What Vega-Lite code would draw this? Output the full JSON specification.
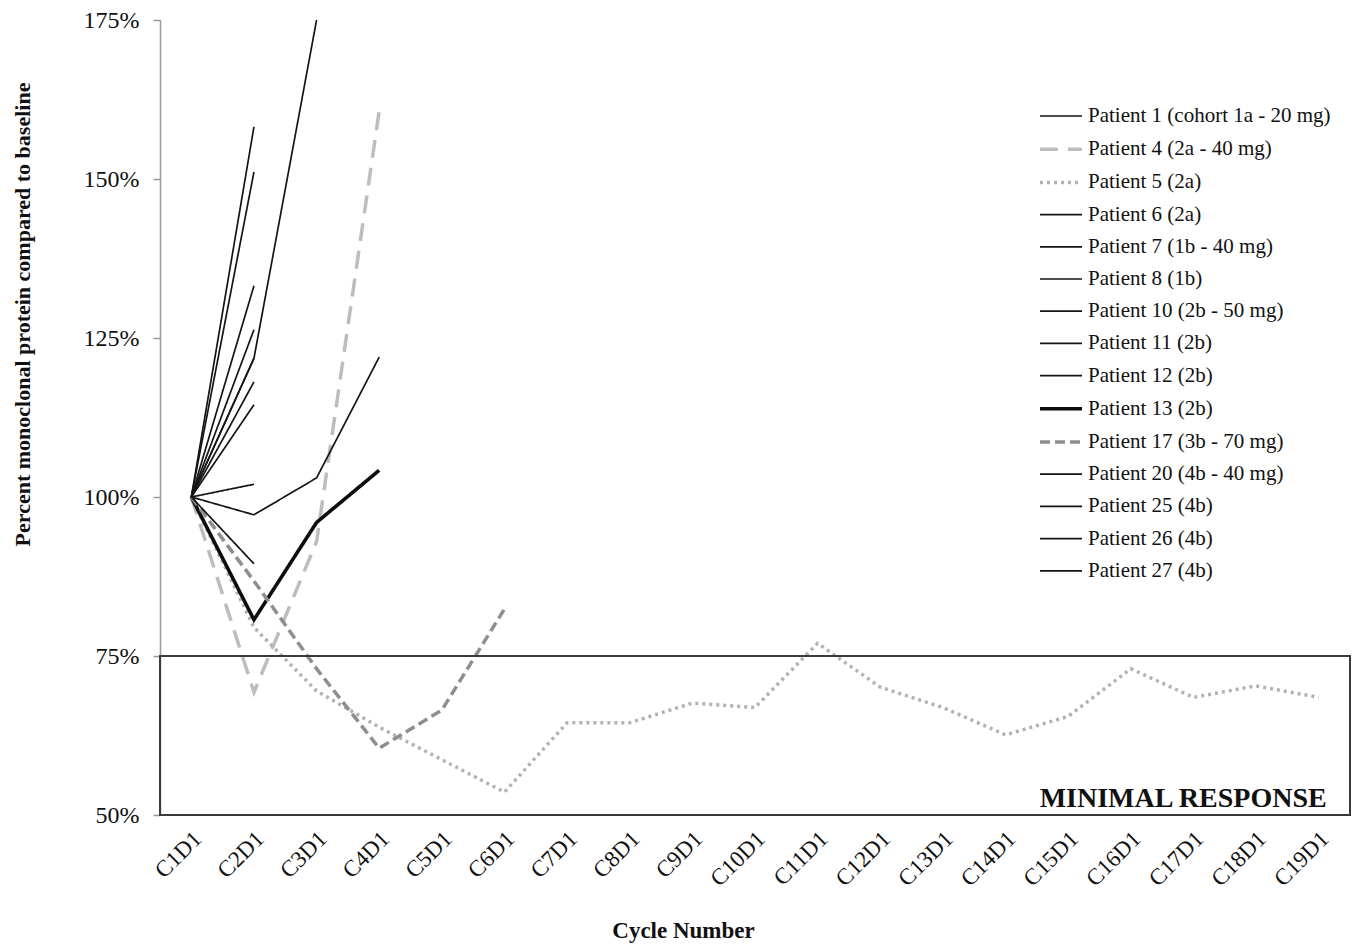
{
  "$schema": "https://vega.github.io/schema/vega-lite/v6.json",
  "width": 1190,
  "height": 795,
  "autosize": {"type": "none"},
  "padding": {"left": 160, "top": 20, "right": 9, "bottom": 133},
  "background": "white",
  "config": {
    "view": {"stroke": null},
    "font": "Liberation Serif",
    "axisX": {
      "titleFont": "Liberation Serif", "titleFontSize": 23, "titleFontWeight": "bold", "titleColor": "#111",
      "titleX": 523, "titleY": 115, "titleBaseline": "middle", "titleAnchor": "middle", "titleAlign": "center",
      "labelAngle": -45, "labelAlign": "right", "labelBaseline": "middle", "labelPadding": 20, "labelOffset": 6,
      "labelFontSize": 23, "labelColor": "#111", "labelFont": "Liberation Serif",
      "domain": false, "ticks": false, "grid": false
    },
    "axisY": {
      "titleFont": "Liberation Serif", "titleFontSize": 22, "titleFontWeight": "bold", "titleColor": "#111",
      "titleX": -138, "titleY": 294, "titleAngle": -90, "titleBaseline": "middle", "titleAlign": "center",
      "labelFontSize": 24, "labelColor": "#111", "labelFont": "Liberation Serif", "labelPadding": 14,
      "domainColor": "#999", "domainWidth": 1.5, "tickColor": "#999", "tickSize": 7, "tickWidth": 1.5, "grid": false
    }
  },
  "layer": [
    {
      "data": {"values": [
        {"p": "Patient 1 (cohort 1a - 20 mg)", "c": "C1D1", "v": 100},
        {"p": "Patient 1 (cohort 1a - 20 mg)", "c": "C2D1", "v": 158.2},
        {"p": "Patient 4 (2a - 40 mg)", "c": "C1D1", "v": 100},
        {"p": "Patient 4 (2a - 40 mg)", "c": "C2D1", "v": 69.3},
        {"p": "Patient 4 (2a - 40 mg)", "c": "C3D1", "v": 93},
        {"p": "Patient 4 (2a - 40 mg)", "c": "C4D1", "v": 160.7},
        {"p": "Patient 5 (2a)", "c": "C1D1", "v": 100},
        {"p": "Patient 5 (2a)", "c": "C2D1", "v": 79.5},
        {"p": "Patient 5 (2a)", "c": "C3D1", "v": 69.5},
        {"p": "Patient 5 (2a)", "c": "C4D1", "v": 63.8},
        {"p": "Patient 5 (2a)", "c": "C5D1", "v": 58.7},
        {"p": "Patient 5 (2a)", "c": "C6D1", "v": 53.6},
        {"p": "Patient 5 (2a)", "c": "C7D1", "v": 64.5},
        {"p": "Patient 5 (2a)", "c": "C8D1", "v": 64.5},
        {"p": "Patient 5 (2a)", "c": "C9D1", "v": 67.6},
        {"p": "Patient 5 (2a)", "c": "C10D1", "v": 66.9},
        {"p": "Patient 5 (2a)", "c": "C11D1", "v": 77.0},
        {"p": "Patient 5 (2a)", "c": "C12D1", "v": 70.1},
        {"p": "Patient 5 (2a)", "c": "C13D1", "v": 66.9},
        {"p": "Patient 5 (2a)", "c": "C14D1", "v": 62.6},
        {"p": "Patient 5 (2a)", "c": "C15D1", "v": 65.5},
        {"p": "Patient 5 (2a)", "c": "C16D1", "v": 73.0},
        {"p": "Patient 5 (2a)", "c": "C17D1", "v": 68.5},
        {"p": "Patient 5 (2a)", "c": "C18D1", "v": 70.3},
        {"p": "Patient 5 (2a)", "c": "C19D1", "v": 68.5},
        {"p": "Patient 6 (2a)", "c": "C1D1", "v": 100},
        {"p": "Patient 6 (2a)", "c": "C2D1", "v": 151.1},
        {"p": "Patient 7 (1b - 40 mg)", "c": "C1D1", "v": 100},
        {"p": "Patient 7 (1b - 40 mg)", "c": "C2D1", "v": 121.8},
        {"p": "Patient 7 (1b - 40 mg)", "c": "C3D1", "v": 175},
        {"p": "Patient 8 (1b)", "c": "C1D1", "v": 100},
        {"p": "Patient 8 (1b)", "c": "C2D1", "v": 133.2},
        {"p": "Patient 10 (2b - 50 mg)", "c": "C1D1", "v": 100},
        {"p": "Patient 10 (2b - 50 mg)", "c": "C2D1", "v": 126.3},
        {"p": "Patient 11 (2b)", "c": "C1D1", "v": 100},
        {"p": "Patient 11 (2b)", "c": "C2D1", "v": 118.1},
        {"p": "Patient 12 (2b)", "c": "C1D1", "v": 100},
        {"p": "Patient 12 (2b)", "c": "C2D1", "v": 114.5},
        {"p": "Patient 13 (2b)", "c": "C1D1", "v": 100},
        {"p": "Patient 13 (2b)", "c": "C2D1", "v": 80.7},
        {"p": "Patient 13 (2b)", "c": "C3D1", "v": 96},
        {"p": "Patient 13 (2b)", "c": "C4D1", "v": 104.2},
        {"p": "Patient 17 (3b - 70 mg)", "c": "C1D1", "v": 100},
        {"p": "Patient 17 (3b - 70 mg)", "c": "C2D1", "v": 86.8},
        {"p": "Patient 17 (3b - 70 mg)", "c": "C3D1", "v": 73},
        {"p": "Patient 17 (3b - 70 mg)", "c": "C4D1", "v": 60.5},
        {"p": "Patient 17 (3b - 70 mg)", "c": "C5D1", "v": 66.5},
        {"p": "Patient 17 (3b - 70 mg)", "c": "C6D1", "v": 82.4},
        {"p": "Patient 20 (4b - 40 mg)", "c": "C1D1", "v": 100},
        {"p": "Patient 20 (4b - 40 mg)", "c": "C2D1", "v": 97.2},
        {"p": "Patient 20 (4b - 40 mg)", "c": "C3D1", "v": 103},
        {"p": "Patient 20 (4b - 40 mg)", "c": "C4D1", "v": 122},
        {"p": "Patient 25 (4b)", "c": "C1D1", "v": 100},
        {"p": "Patient 25 (4b)", "c": "C2D1", "v": 102},
        {"p": "Patient 26 (4b)", "c": "C1D1", "v": 100},
        {"p": "Patient 26 (4b)", "c": "C2D1", "v": 89.5},
        {"p": "Patient 27 (4b)", "c": "C1D1", "v": 100},
        {"p": "Patient 27 (4b)", "c": "C2D1", "v": 121.8}
      ]},
      "mark": {"type": "line", "strokeJoin": "miter"},
      "encoding": {
        "x": {
          "field": "c", "type": "ordinal",
          "scale": {"type": "point", "padding": 0.5, "domain": ["C1D1","C2D1","C3D1","C4D1","C5D1","C6D1","C7D1","C8D1","C9D1","C10D1","C11D1","C12D1","C13D1","C14D1","C15D1","C16D1","C17D1","C18D1","C19D1"]},
          "sort": null,
          "title": "Cycle Number"
        },
        "y": {
          "field": "v", "type": "quantitative",
          "scale": {"domain": [50, 175], "nice": false, "zero": false},
          "title": "Percent monoclonal protein compared to baseline",
          "axis": {"values": [50, 75, 100, 125, 150, 175], "labelExpr": "datum.value + '%'"}
        },
        "color": {
          "field": "p", "type": "nominal",
          "scale": {
            "domain": ["Patient 1 (cohort 1a - 20 mg)","Patient 4 (2a - 40 mg)","Patient 5 (2a)","Patient 6 (2a)","Patient 7 (1b - 40 mg)","Patient 8 (1b)","Patient 10 (2b - 50 mg)","Patient 11 (2b)","Patient 12 (2b)","Patient 13 (2b)","Patient 17 (3b - 70 mg)","Patient 20 (4b - 40 mg)","Patient 25 (4b)","Patient 26 (4b)","Patient 27 (4b)"],
            "range": ["#151515","#bdbdbd","#b2b2b2","#151515","#151515","#151515","#151515","#151515","#151515","#0d0d0d","#8e8e8e","#151515","#151515","#151515","#151515"]
          },
          "legend": {
            "title": null, "orient": "none", "legendX": 884, "legendY": 80, "padding": 0,
            "symbolType": "M-1.4,0L1.4,0", "symbolSize": 900, "symbolFillColor": "transparent",
            "labelFontSize": 21, "labelFont": "Liberation Serif", "labelColor": "#111", "labelLimit": 0, "labelOffset": 10,
            "rowPadding": 6.2
          }
        },
        "strokeDash": {
          "field": "p", "type": "nominal",
          "scale": {
            "domain": ["Patient 1 (cohort 1a - 20 mg)","Patient 4 (2a - 40 mg)","Patient 5 (2a)","Patient 6 (2a)","Patient 7 (1b - 40 mg)","Patient 8 (1b)","Patient 10 (2b - 50 mg)","Patient 11 (2b)","Patient 12 (2b)","Patient 13 (2b)","Patient 17 (3b - 70 mg)","Patient 20 (4b - 40 mg)","Patient 25 (4b)","Patient 26 (4b)","Patient 27 (4b)"],
            "range": [[1,0],[18,10],[3,4],[1,0],[1,0],[1,0],[1,0],[1,0],[1,0],[1,0],[10,5],[1,0],[1,0],[1,0],[1,0]]
          }
        },
        "strokeWidth": {
          "field": "p", "type": "nominal",
          "scale": {
            "type": "ordinal",
            "domain": ["Patient 1 (cohort 1a - 20 mg)","Patient 4 (2a - 40 mg)","Patient 5 (2a)","Patient 6 (2a)","Patient 7 (1b - 40 mg)","Patient 8 (1b)","Patient 10 (2b - 50 mg)","Patient 11 (2b)","Patient 12 (2b)","Patient 13 (2b)","Patient 17 (3b - 70 mg)","Patient 20 (4b - 40 mg)","Patient 25 (4b)","Patient 26 (4b)","Patient 27 (4b)"],
            "range": [1.7,3.5,3.5,1.7,1.7,1.7,1.7,1.7,1.7,3.6,3.5,1.7,1.7,1.7,1.7]
          }
        }
      }
    },
    {
      "data": {"values": [{"lo": 50, "hi": 75}]},
      "mark": {"type": "rect", "fill": null, "stroke": "#3a3a3a", "strokeWidth": 2},
      "encoding": {
        "y": {"field": "lo", "type": "quantitative", "title": "Percent monoclonal protein compared to baseline",
              "axis": {"values": [50, 75, 100, 125, 150, 175], "labelExpr": "datum.value + '%'"}},
        "y2": {"field": "hi"}
      }
    },
    {
      "data": {"values": [{"label": "MINIMAL RESPONSE", "c": "C19D1", "v": 51.3}]},
      "mark": {"type": "text", "align": "right", "baseline": "alphabetic", "dx": 8, "fontSize": 28, "fontWeight": "bold", "font": "Liberation Serif", "color": "#111"},
      "encoding": {
        "x": {"field": "c", "type": "ordinal", "title": "Cycle Number"},
        "y": {"field": "v", "type": "quantitative", "title": "Percent monoclonal protein compared to baseline",
              "axis": {"values": [50, 75, 100, 125, 150, 175], "labelExpr": "datum.value + '%'"}},
        "text": {"field": "label"}
      }
    }
  ]
}
